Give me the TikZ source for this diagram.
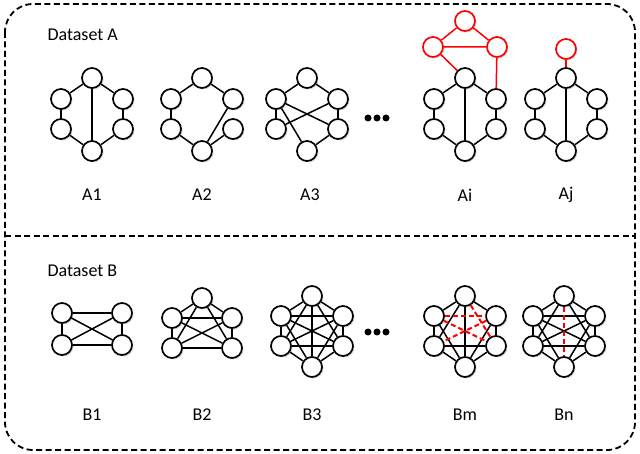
\documentclass[tikz,border=0pt]{standalone}
\usepackage{fontspec}
\setmainfont{Carlito}
\usetikzlibrary{shadows}
\tikzset{
  vtx/.style={circle, draw=black, line width=1.7pt, fill=white, minimum size=20pt, inner sep=0pt,
    drop shadow={shadow xshift=1.5pt, shadow yshift=-1.5pt, opacity=0.3}},
  redvtx/.style={vtx, draw=red},
  lnk/.style={line width=1.5pt},
  redlnk/.style={lnk, red},
  reddash/.style={red, line width=2pt, dash pattern=on 5pt off 3pt},
  frame/.style={line width=1.8pt, dash pattern=on 6pt off 3.5pt},
  lbl/.style={font=\fontsize{18}{21}\selectfont}
}
\def\hexring{t/ul,t/ur,ul/ll,ur/lr,ll/b,lr/b}
\def\ksix{t/ul,t/ur,t/ll,t/lr,t/b,ul/ur,ul/ll,ul/lr,ul/b,ur/ll,ur/lr,ur/b,ll/lr,ll/b,lr/b}
\begin{document}
\begin{tikzpicture}[x=1pt, y=-1pt]
            \useasboundingbox (0,0) rectangle (640,454);
            % frame and divider
            \draw[frame, rounded corners=28pt] (5,4) rectangle (635,450);
            \draw[frame] (5,236) -- (635,236);
            \node[lbl, anchor=west] (dsa) at (44,35) {Dataset A};
            \node[lbl, anchor=west] (dsb) at (44,271) {Dataset B};
            % dataset A: hexagon graphs
            \foreach \g/\cx in {a1/92,a2/202,a3/307,ai/465,aj/566}{
              \node[vtx] (\g-t) at (\cx,78) {};
              \node[vtx] (\g-ul) at (\cx-31,99) {};
              \node[vtx] (\g-ur) at (\cx+31,99) {};
              \node[vtx] (\g-ll) at (\cx-31,129) {};
              \node[vtx] (\g-lr) at (\cx+31,129) {};
              \node[vtx] (\g-b) at (\cx,151) {};
            }
            \foreach \u/\v in \hexring {\draw[lnk] (a1-\u) -- (a1-\v); \draw[lnk] (ai-\u) -- (ai-\v); \draw[lnk] (aj-\u) -- (aj-\v);}
            \foreach \g in {a1,ai,aj} \draw[lnk] (\g-t) -- (\g-b);
            \foreach \u/\v in {t/ul,t/ur,ul/ll,ll/b,ur/b,lr/b} \draw[lnk] (a2-\u) -- (a2-\v);
            \foreach \u/\v in {t/ul,t/ur,ul/ll,ur/lr,ul/lr,ur/ll,ul/b,lr/b} \draw[lnk] (a3-\u) -- (a3-\v);
            % added red parts
            \node[redvtx] (ai-rt) at (465,21) {};
            \node[redvtx] (ai-rl) at (433,47) {};
            \node[redvtx] (ai-rr) at (497,47) {};
            \draw[redlnk] (ai-rt) -- (ai-rl) -- (ai-rr) -- (ai-rt);
            \draw[redlnk] (ai-rl) -- (ai-t);
            \draw[redlnk] (ai-rr) -- (ai-ur);
            \node[redvtx] (aj-r) at (566,49) {};
            \draw[redlnk] (aj-r) -- (aj-t);
            % dataset B
            \node[vtx] (b1-ul) at (62,313) {};
            \node[vtx] (b1-ur) at (122,313) {};
            \node[vtx] (b1-ll) at (62,345) {};
            \node[vtx] (b1-lr) at (122,345) {};
            \foreach \u/\v in {ul/ur,ll/lr,ul/ll,ur/lr,ul/lr,ur/ll} \draw[lnk] (b1-\u) -- (b1-\v);
            \node[vtx] (b2-t) at (202,298) {};
            \node[vtx] (b2-ul) at (172,318) {};
            \node[vtx] (b2-ur) at (232,318) {};
            \node[vtx] (b2-ll) at (172,348) {};
            \node[vtx] (b2-lr) at (232,348) {};
            \foreach \u/\v in {t/ul,t/ur,t/ll,t/lr,ul/ur,ul/ll,ul/lr,ur/ll,ur/lr,ll/lr} \draw[lnk] (b2-\u) -- (b2-\v);
            \foreach \g/\cx in {b3/312,bm/465,bn/564}{
              \node[vtx] (\g-t) at (\cx,296) {};
              \node[vtx] (\g-ul) at (\cx-31,316) {};
              \node[vtx] (\g-ur) at (\cx+31,316) {};
              \node[vtx] (\g-ll) at (\cx-31,346) {};
              \node[vtx] (\g-lr) at (\cx+31,346) {};
              \node[vtx] (\g-b) at (\cx,367) {};
            }
            \foreach \u/\v in \ksix \draw[lnk] (b3-\u) -- (b3-\v);
            \draw[line width=2.5pt] (b3-t) -- (b3-b);
            \foreach \u/\v in {t/ul,t/ur,t/ll,t/b,ul/ll,ul/b,ur/lr,ur/b,ll/lr,ll/b,lr/b} \draw[lnk] (bm-\u) -- (bm-\v);
            \foreach \u/\v in {ul/ur,ul/lr,ur/ll,t/lr} \draw[reddash] (bm-\u) -- (bm-\v);
            \foreach \u/\v in {t/ul,t/ur,t/ll,t/lr,ul/ur,ul/ll,ul/lr,ul/b,ur/ll,ur/lr,ur/b,ll/lr,ll/b,lr/b} \draw[lnk] (bn-\u) -- (bn-\v);
            \draw[reddash] (bn-t) -- (bn-b);
            % dots
            \foreach \x in {368,377,386}{\fill (\x,118) circle (3.5pt); \fill (\x,332) circle (3.5pt);}
            % labels
            \foreach \g/\cx/\t in {a1/92/A1,a2/202/A2,a3/310/A3,ai/465/Ai,aj/566/Aj}
              \node[lbl] (l\g) at (\cx,195) {\t};
            \foreach \g/\cx/\t in {b1/92/B1,b2/202/B2,b3/312/B3,bm/465/Bm,bn/564/Bn}
              \node[lbl] (l\g) at (\cx,415) {\t};
\end{tikzpicture}
\end{document}
